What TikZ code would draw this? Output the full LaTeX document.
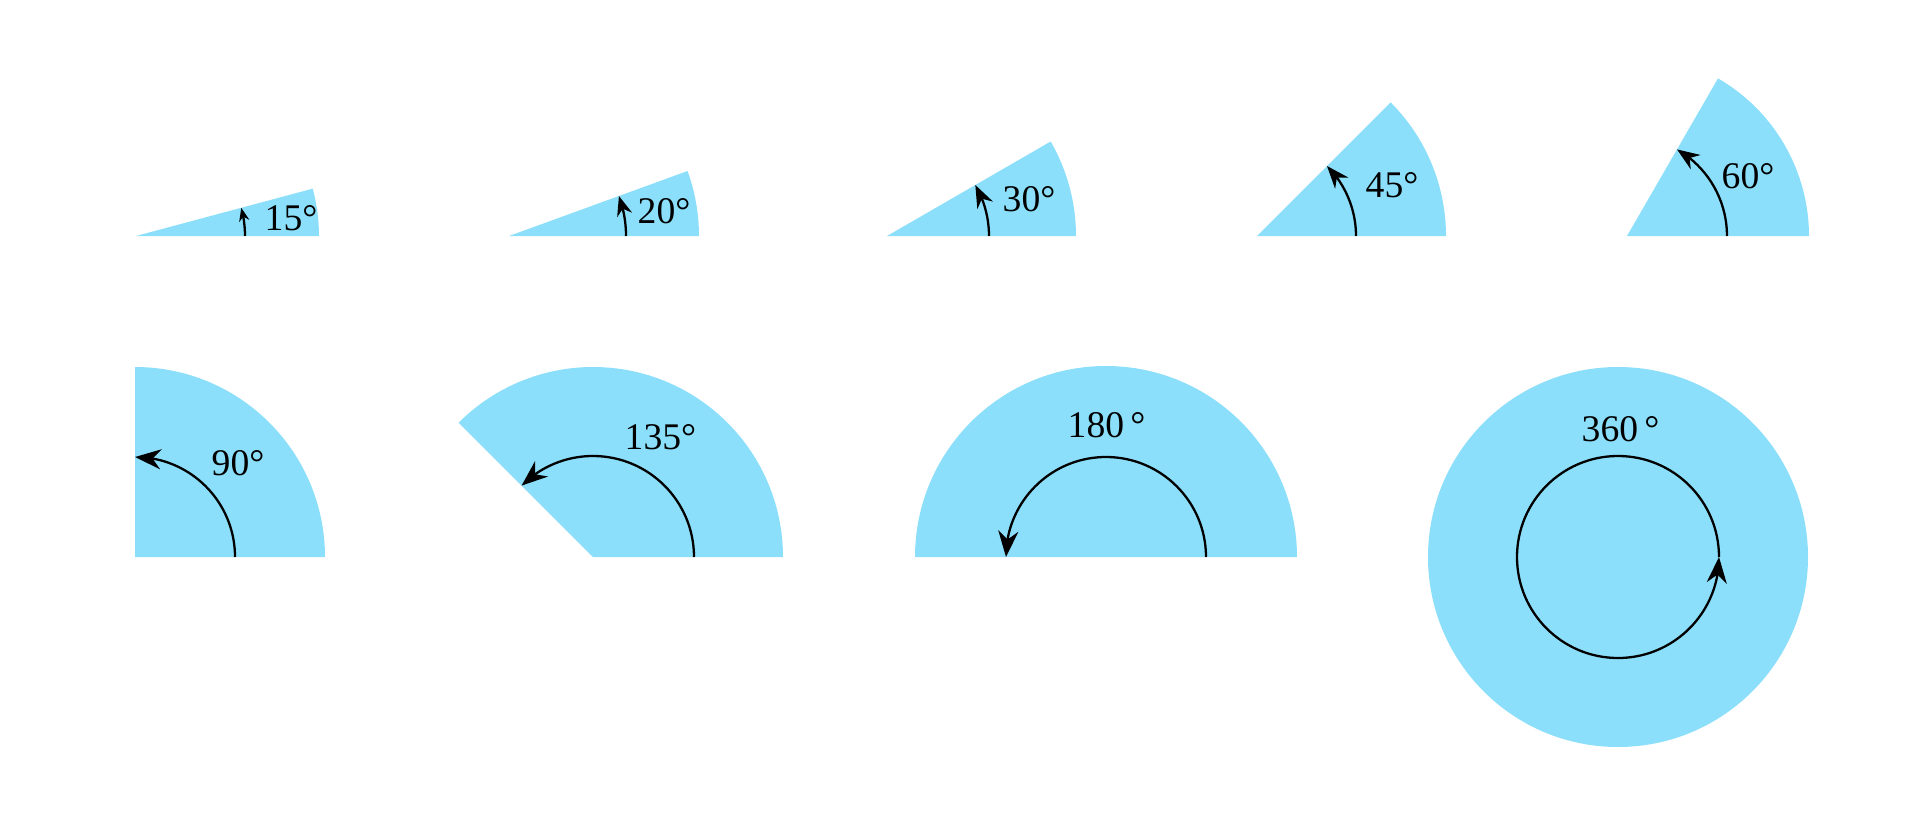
\documentclass[tikz,border=0pt]{standalone}
\usepackage{fontspec}
\setmainfont{Liberation Serif}
\usetikzlibrary{arrows.meta,bending}
\definecolor{sky}{RGB}{140,223,250}
\tikzset{
  sector/.style={fill=sky, draw=none},
  turn/.style={draw=black, line width=0.65pt},
  tipS/.style={-{Stealth[length=3.8pt,width=2.9pt]}},
  tipM/.style={-{Stealth[length=5.6pt,width=4.4pt]}},
  tipL/.style={-{Stealth[length=6.4pt,width=4.9pt]}},
  tipXL/.style={-{Stealth[length=7.4pt,width=5.7pt]}},
  deg/.style={font=\fontsize{10.7pt}{12pt}\selectfont, inner sep=0pt, anchor=base west},
}
\begin{document}
\begin{tikzpicture}[x=0.01cm,y=0.01cm]
\useasboundingbox (0,0) rectangle (1920,823);
% ---------- top row (apex y = 823-236 = 587) ----------
% 15
\coordinate (c15) at (136,587);
\fill[sector] (c15) -- ++(0:183) arc[start angle=0,end angle=15,radius=183] -- cycle;
\draw[turn,tipS] (c15) ++(0:109) arc[start angle=0,end angle=15,radius=109];
\node[deg] (l15) at (264,593) {15°};
% 20
\coordinate (c20) at (509,587);
\fill[sector] (c20) -- ++(0:190) arc[start angle=0,end angle=20,radius=190] -- cycle;
\draw[turn,tipM] (c20) ++(0:117) arc[start angle=0,end angle=20,radius=117];
\node[deg] (l20) at (637,600) {20°};
% 30
\coordinate (c30) at (887,587);
\fill[sector] (c30) -- ++(0:189) arc[start angle=0,end angle=30,radius=189] -- cycle;
\draw[turn,tipL] (c30) ++(0:102) arc[start angle=0,end angle=30,radius=102];
\node[deg] (l30) at (1002,612) {30°};
% 45
\coordinate (c45) at (1257,587);
\fill[sector] (c45) -- ++(0:189) arc[start angle=0,end angle=45,radius=189] -- cycle;
\draw[turn,tipL] (c45) ++(0:99) arc[start angle=0,end angle=45,radius=99];
\node[deg] (l45) at (1365,626) {45°};
% 60
\coordinate (c60) at (1627,587);
\fill[sector] (c60) -- ++(0:182) arc[start angle=0,end angle=60,radius=182] -- cycle;
\draw[turn,tipL] (c60) ++(0:100) arc[start angle=0,end angle=60,radius=100];
\node[deg] (l60) at (1721,635) {60°};
% ---------- bottom row (centre y = 823-557 = 266) ----------
% 90
\coordinate (c90) at (135,266);
\fill[sector] (c90) -- ++(0:190) arc[start angle=0,end angle=90,radius=190] -- cycle;
\draw[turn,tipXL] (c90) ++(0:100) arc[start angle=0,end angle=90,radius=100];
\node[deg] (l90) at (211,348) {90°};
% 135
\coordinate (c135) at (593,266);
\fill[sector] (c135) -- ++(0:190) arc[start angle=0,end angle=135,radius=190] -- cycle;
\draw[turn,tipXL] (c135) ++(0:101) arc[start angle=0,end angle=135,radius=101];
\node[deg] (l135) at (624,374) {135°};
% 180
\coordinate (c180) at (1106,266);
\fill[sector] (c180) -- ++(0:191) arc[start angle=0,end angle=180,radius=191] -- cycle;
\draw[turn,tipXL] (c180) ++(0:100) arc[start angle=0,end angle=180,radius=100];
\node[deg] (l180) at (1067,386) {180\,°};
% 360
\coordinate (c360) at (1618,266);
\fill[sector] (c360) circle[radius=190];
\draw[turn,tipXL] (c360) ++(0:101) arc[start angle=0,end angle=360,radius=101];
\node[deg] (l360) at (1581,382) {360\,°};
\end{tikzpicture}
\end{document}
